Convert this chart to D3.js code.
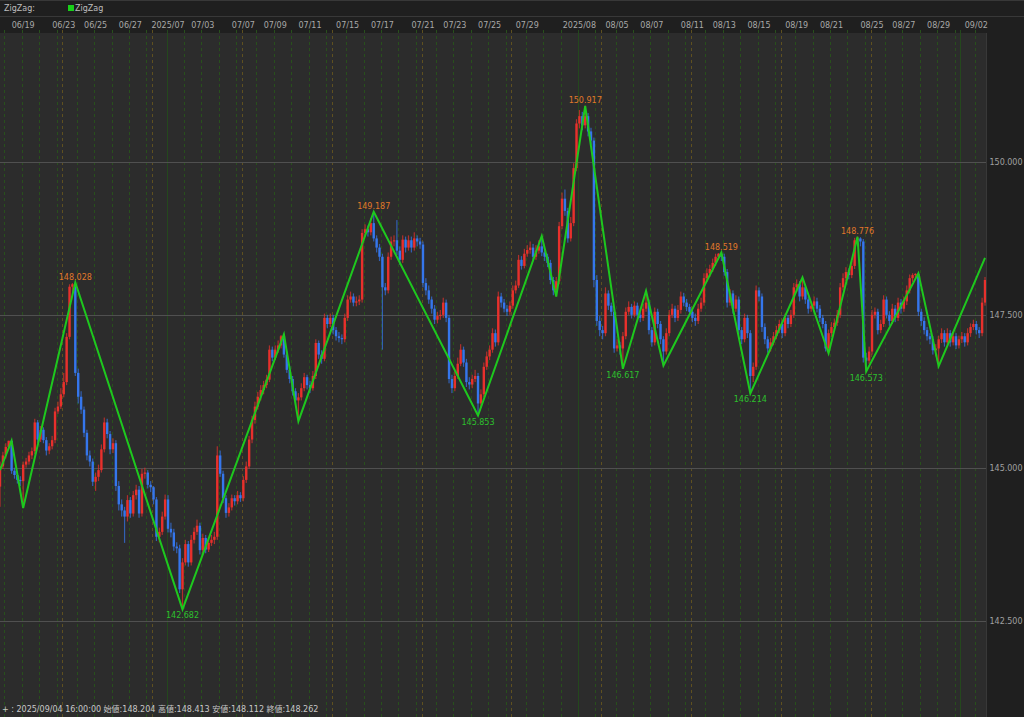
<!DOCTYPE html>
<html><head><meta charset="utf-8">
<script src="https://cdn.jsdelivr.net/npm/d3@7"></script>
<style>
html,body{margin:0;padding:0;background:#1e1e1e;overflow:hidden;}
svg{display:block;}
text{font-family:"DejaVu Sans","Noto Sans CJK JP",sans-serif;}
</style></head><body>
<svg id="c" width="1024" height="717"></svg>
<script>
// ---- data: 4h candles (open of each bar = previous close) ----
const firstOpen = 144.69;
const closes = [
145.02,145.20,145.34,145.44,144.95,144.88,144.80,144.78,145.05,145.10,
145.20,145.27,145.74,145.46,145.62,145.45,145.28,145.35,145.45,145.92,
146.00,146.20,146.40,147.14,147.96,148.00,146.55,146.16,145.95,145.57,
145.20,145.10,144.77,144.85,144.96,145.30,145.74,145.55,145.30,145.40,
144.70,144.40,144.30,144.20,144.47,144.25,144.55,144.64,144.25,144.90,
144.92,144.72,144.68,144.48,143.87,143.95,144.20,144.48,144.00,143.94,
143.71,143.68,143.01,143.45,143.75,143.45,143.82,143.95,144.05,143.65,
143.85,143.66,143.77,143.82,143.87,145.20,144.90,144.50,144.26,144.35,
144.50,144.45,144.55,144.50,144.80,145.02,145.46,145.78,146.00,146.16,
146.27,146.35,146.44,146.93,146.80,146.93,147.00,147.15,146.85,146.60,
146.45,146.25,146.10,146.15,146.30,146.48,146.35,146.30,146.50,147.04,
146.85,146.78,147.45,147.35,147.45,147.25,147.15,147.12,147.10,147.45,
147.75,147.80,147.70,147.72,147.75,148.84,148.90,148.85,149.00,148.75,
148.60,148.45,147.95,147.90,148.45,148.70,148.72,148.55,148.40,148.73,
148.60,148.72,148.60,148.75,148.70,148.65,148.02,147.90,147.75,147.60,
147.42,147.48,147.50,147.70,147.45,146.45,146.30,146.50,146.70,146.93,
146.72,146.40,146.36,146.45,146.50,146.05,146.20,146.65,146.82,146.93,
147.20,147.05,147.80,147.70,147.60,147.55,147.65,147.90,147.98,148.40,
148.30,148.50,148.56,148.60,148.45,148.55,148.62,148.52,148.45,148.35,
148.07,147.90,148.05,148.95,149.40,149.20,148.75,149.00,149.90,150.63,
150.75,150.60,150.75,150.50,150.35,148.07,147.40,147.25,147.20,147.85,
147.65,147.55,146.95,147.00,146.95,147.15,147.55,147.63,147.50,147.65,
147.50,147.45,147.60,147.70,147.25,147.05,147.55,147.35,147.10,146.90,
147.20,147.50,147.60,147.45,147.58,147.80,147.70,147.63,147.55,147.45,
147.40,147.60,147.70,148.10,148.18,148.25,148.35,148.45,148.50,148.45,
148.20,147.70,147.85,147.60,147.75,147.25,147.10,147.45,147.20,146.50,
146.65,147.90,147.80,147.30,147.10,146.95,147.05,147.15,147.25,147.35,
147.20,147.45,147.35,147.50,147.95,148.00,147.80,147.95,147.75,147.60,
147.65,147.72,147.60,147.45,147.35,146.95,147.20,147.30,147.37,147.50,
147.95,148.10,148.20,148.15,148.30,148.72,148.75,148.70,146.80,146.75,
146.90,147.50,147.55,147.25,147.35,147.75,147.50,147.40,147.60,147.45,
147.70,147.60,147.72,147.90,148.10,148.15,148.17,147.55,147.40,147.25,
147.15,147.10,146.92,146.95,147.10,147.20,147.05,147.20,147.05,147.15,
147.00,147.10,147.15,147.05,147.20,147.30,147.35,147.25,147.20,147.70,148.07];
const highs = [
145.10,145.26,145.40,145.44,145.44,145.00,144.92,144.86,145.10,145.16,
145.26,145.33,145.80,145.78,145.68,145.66,145.50,145.40,145.52,145.98,
146.08,146.30,146.55,147.20,148.00,148.02,148.03,146.62,146.25,146.00,
145.62,145.28,145.15,144.92,145.05,145.38,145.82,145.80,145.60,145.48,
145.45,144.78,144.48,144.36,144.55,144.52,144.62,144.72,144.70,144.98,
145.00,144.96,144.78,144.70,144.52,144.02,144.28,144.56,144.55,144.10,
144.00,143.78,143.74,143.52,143.82,143.80,143.90,144.02,144.15,144.10,
143.92,143.90,143.84,143.90,143.95,145.35,145.28,144.95,144.55,144.42,
144.56,144.55,144.62,144.60,144.86,145.10,145.52,145.85,146.08,146.24,
146.35,146.42,146.52,147.00,146.98,147.00,147.08,147.17,147.18,146.90,
146.66,146.50,146.30,146.22,146.38,146.55,146.52,146.42,146.58,147.10,
147.08,146.92,147.52,147.50,147.52,147.50,147.30,147.22,147.18,147.52,
147.82,147.88,147.85,147.80,147.82,148.90,148.98,148.96,149.08,149.19,
148.80,148.66,148.50,148.02,148.52,148.78,148.80,149.05,148.62,148.80,
148.78,148.80,148.78,148.85,148.80,148.76,148.70,148.10,147.98,147.80,
147.66,147.55,147.58,147.78,147.75,147.50,146.52,146.60,146.80,147.02,
146.98,146.78,146.48,146.52,146.60,146.55,146.28,146.72,146.90,147.00,
147.28,147.26,147.88,147.86,147.76,147.66,147.72,147.98,148.06,148.48,
148.46,148.58,148.64,148.70,148.66,148.64,148.72,148.79,148.58,148.50,
148.40,148.12,148.12,149.02,149.50,149.55,149.25,149.10,149.98,150.70,
150.85,150.82,150.92,150.80,150.56,150.40,148.15,147.48,147.32,147.95,
147.90,147.70,147.60,147.10,147.06,147.22,147.62,147.72,147.68,147.72,
147.70,147.56,147.68,147.89,147.75,147.30,147.62,147.60,147.40,147.15,
147.28,147.58,147.68,147.65,147.66,147.88,147.86,147.76,147.68,147.60,
147.52,147.68,147.78,148.18,148.26,148.32,148.42,148.50,148.51,148.52,
148.50,148.25,147.92,147.90,147.82,147.80,147.30,147.52,147.50,147.25,
146.72,147.98,147.95,147.85,147.36,147.15,147.12,147.22,147.32,147.42,
147.40,147.52,147.50,147.58,148.02,148.08,148.05,148.11,148.00,147.80,
147.72,147.80,147.78,147.66,147.50,147.40,147.26,147.38,147.44,147.58,
148.02,148.18,148.28,148.26,148.38,148.76,148.78,148.77,148.74,146.88,
146.98,147.58,147.62,147.60,147.42,147.82,147.80,147.56,147.68,147.66,
147.78,147.76,147.80,147.98,148.16,148.18,148.18,148.18,147.60,147.46,
147.30,147.20,147.15,147.02,147.16,147.28,147.25,147.28,147.25,147.22,
147.20,147.16,147.22,147.20,147.28,147.36,147.42,147.40,147.30,147.78,148.12];
const lows = [
144.36,144.98,145.15,145.30,144.90,144.82,144.74,144.70,144.34,145.00,
145.05,145.14,145.22,145.40,145.42,145.40,145.20,145.22,145.30,145.40,
145.88,145.96,146.15,146.35,147.10,147.85,146.50,146.05,145.88,145.50,
145.12,145.02,144.70,144.62,144.78,144.92,145.25,145.48,145.22,145.24,
144.62,144.30,144.20,143.77,144.12,144.18,144.20,144.48,144.18,144.20,
144.82,144.66,144.60,144.40,143.80,143.78,143.90,144.15,143.94,143.86,
143.64,143.60,142.95,142.68,143.40,143.38,143.40,143.76,143.90,143.58,
143.60,143.60,143.62,143.72,143.75,143.82,144.85,144.42,144.18,144.20,
144.30,144.38,144.40,144.44,144.45,144.75,144.98,145.40,145.72,145.95,
146.10,146.20,146.30,146.40,146.74,146.76,146.88,146.95,146.80,146.55,
146.38,146.18,146.02,145.76,146.10,146.25,146.28,146.22,146.26,146.45,
146.78,146.70,146.74,147.28,147.30,147.18,147.08,147.05,147.02,147.05,
147.40,147.70,147.64,147.64,147.66,147.70,148.78,148.78,148.80,148.70,
148.52,148.38,146.93,147.82,147.85,148.40,148.62,148.48,148.32,148.35,
148.52,148.55,148.52,148.55,148.62,148.58,147.95,147.82,147.68,147.52,
147.35,147.36,147.42,147.45,147.38,146.38,146.22,146.25,146.45,146.66,
146.65,146.32,146.28,146.30,146.40,145.85,145.98,146.15,146.60,146.76,
146.88,146.98,147.00,147.62,147.54,147.48,147.50,147.60,147.85,147.94,
148.24,148.26,148.45,148.50,148.40,148.40,148.50,148.46,148.38,148.28,
148.00,147.82,147.80,148.00,148.90,149.12,148.68,148.70,148.95,149.85,
150.55,150.52,150.55,150.42,150.28,147.95,147.32,147.15,147.10,147.15,
147.58,147.48,146.88,146.90,146.85,146.62,147.10,147.50,147.44,147.46,
147.44,147.38,147.40,147.55,147.18,146.98,147.00,147.28,147.02,146.67,
146.85,147.15,147.45,147.38,147.40,147.52,147.64,147.56,147.48,147.38,
147.32,147.35,147.55,147.65,148.04,148.12,148.20,148.30,148.40,148.38,
148.14,147.62,147.65,147.52,147.55,147.18,147.02,147.05,147.12,146.21,
146.40,146.60,147.72,147.22,147.02,146.88,146.90,147.00,147.10,147.20,
147.12,147.15,147.28,147.30,147.45,147.88,147.72,147.75,147.68,147.52,
147.55,147.60,147.54,147.38,147.28,146.90,146.87,147.14,147.25,147.32,
147.45,147.90,148.05,148.08,148.10,148.25,148.62,148.62,146.72,146.57,
146.70,146.85,147.44,147.18,147.20,147.30,147.44,147.32,147.35,147.38,
147.40,147.52,147.55,147.66,147.85,148.04,148.08,147.48,147.32,147.18,
147.08,147.02,146.85,146.82,146.66,147.04,146.98,147.00,146.98,147.00,
146.94,146.95,147.04,146.98,147.00,147.14,147.25,147.18,147.12,147.15,147.65];

// ZigZag pivots (bar index, price) and which ones carry a value label
const zzIdx = [0,4,8,26,63,98,103,129,165,187,192,202,215,223,229,249,259,277,286,296,299,317,324,340];
const zzVal = [144.96,145.44,144.34,148.028,142.682,147.18,145.76,149.187,145.853,148.79,147.80,150.917,146.617,147.89,146.67,148.519,146.214,148.11,146.87,148.776,146.573,148.18,146.66,148.43];
const zzLabelIdx = [26,63,129,165,202,215,249,259,296,299];
const zzLabelType = ["H","L","H","L","H","L","H","L","H","L"];

// date axis labels
const tickLabels = ["06/19","06/23","06/25","06/27","2025/07","07/03","07/07","07/09","07/11","07/15","07/17","07/21","07/23","07/25","07/29","2025/08","08/05","08/07","08/11","08/13","08/15","08/19","08/21","08/25","08/27","08/29","09/02"];
const tickIdx = [8,22,33,45,58,70,84,95,107,120,132,146,157,169,182,200,213,225,239,250,262,275,287,301,312,324,337];
// price axis
const priceTicks = [150, 147.5, 145, 142.5];
// calendar of session boundaries (bar index of day starts)
const dayStartIdx = [2,8,14,20];        // Wed..Sat of first partial week
const weekStartIdx = [22,53,84,115,146,177,208,239,270,301,332]; // Mondays
const monthStartIdx = [58,200,332];

const infoText = "+ : 2025/09/04 16:00:00 始値:148.204 高値:148.413 安値:148.112 終値:148.262";

// ---- layout ----
const W = 1024, H = 717;
const plotL = 0, plotR = 986, plotT = 33, plotB = 717;
const svg = d3.select("#c");

const x = d3.scaleLinear().domain([0, 340]).range([0, 985]);
const y = d3.scaleLinear().domain([142.5, 150]).range([620.5, 162]);

// backgrounds
svg.append("rect").attr("x",0).attr("y",0).attr("width",W).attr("height",H).attr("fill","#1f1f1f");
svg.append("rect").attr("x",plotL).attr("y",plotT).attr("width",plotR-plotL).attr("height",plotB-plotT).attr("fill","#2c2c2c");
svg.append("line").attr("x1",0).attr("x2",W).attr("y1",0.5).attr("y2",0.5).attr("stroke","#383838");
svg.append("line").attr("x1",0).attr("x2",W).attr("y1",16.5).attr("y2",16.5).attr("stroke","#383838");
svg.append("line").attr("x1",plotR+0.5).attr("x2",plotR+0.5).attr("y1",plotT).attr("y2",H).attr("stroke","#383838");

const clip = svg.append("clipPath").attr("id","pc");
clip.append("rect").attr("x",plotL).attr("y",plotT-3).attr("width",plotR-plotL).attr("height",plotB-plotT+3);

const g = svg.append("g").attr("clip-path","url(#pc)");

// vertical session lines
const allWeekDays = [];
weekStartIdx.forEach(w => { [5,11,17,23,29].forEach(o => { if (w+o <= 340) allWeekDays.push(w+o); }); });
const greenDays = dayStartIdx.concat(allWeekDays).filter(i => !monthStartIdx.includes(i));
const xl = i => Math.round(x(i) - 1.4) + 0.5;
g.selectAll("line.day").data(greenDays).join("line").attr("class","day")
  .attr("x1",xl).attr("x2",xl).attr("y1",plotT-3).attr("y2",plotB)
  .attr("stroke","#28501c").attr("stroke-dasharray","3,3");
g.selectAll("line.week").data(weekStartIdx.filter(i => !monthStartIdx.includes(i))).join("line").attr("class","week")
  .attr("x1",xl).attr("x2",xl).attr("y1",plotT-3).attr("y2",plotB)
  .attr("stroke","#5e5020").attr("stroke-dasharray","3,3");
g.selectAll("line.month").data(monthStartIdx).join("line").attr("class","month")
  .attr("x1",xl).attr("x2",xl).attr("y1",plotT-3).attr("y2",plotB)
  .attr("stroke","#24481d");

// horizontal grid
g.selectAll("line.hg").data(priceTicks).join("line").attr("class","hg")
  .attr("x1",plotL).attr("x2",plotR).attr("y1",d=>Math.round(y(d))+0.5).attr("y2",d=>Math.round(y(d))+0.5)
  .attr("stroke","#505050");

// candles
const bars = closes.map((c,i) => ({i, o: i===0 ? firstOpen : closes[i-1], c, h: highs[i], l: lows[i]}));
const up = "#e8302c", dn = "#3576ec";
const cg = g.append("g");
cg.selectAll("rect.wick").data(bars).join("rect").attr("class","wick")
  .attr("x", d => x(d.i) - 0.6)
  .attr("y", d => y(d.h)).attr("width",1.2)
  .attr("height", d => Math.max(1, y(d.l) - y(d.h)))
  .attr("fill", d => d.c >= d.o ? up : dn).attr("opacity",0.7);
cg.selectAll("rect.body").data(bars).join("rect").attr("class","body")
  .attr("x", d => x(d.i) - 1.2)
  .attr("y", d => y(Math.max(d.o,d.c)))
  .attr("width",2.4)
  .attr("height", d => Math.max(1, Math.abs(y(d.o) - y(d.c))))
  .attr("fill", d => d.c >= d.o ? up : dn);

// zigzag
const zz = zzIdx.map((i,k) => [i, zzVal[k]]);
g.append("path").datum(zz)
  .attr("d", d3.line().x(d => x(d[0])).y(d => y(d[1])))
  .attr("fill","none").attr("stroke","#1ec81e").attr("stroke-width",2).attr("stroke-linejoin","miter");

// zigzag labels
zzLabelIdx.forEach((idx,k) => {
  const v = zzVal[zzIdx.indexOf(idx)];
  const hi = zzLabelType[k] === "H";
  svg.append("text").attr("x", x(idx)).attr("y", hi ? y(v) - 3 : y(v) + 9)
    .attr("text-anchor","middle").attr("font-size","8px")
    .attr("fill", hi ? "#e0782a" : "#2cc02c").text(v.toFixed(3));
});

// date axis
svg.selectAll("text.dt").data(tickLabels).join("text").attr("class","dt")
  .attr("x",(d,k) => x(tickIdx[k])).attr("y",28)
  .attr("text-anchor","middle").attr("font-size","8px").attr("fill","#a8a8a8").text(d=>d);

// price axis
svg.selectAll("text.pt").data(priceTicks).join("text").attr("class","pt")
  .attr("x",1006).attr("y",d => y(d) + 3)
  .attr("text-anchor","middle").attr("font-size","8px").attr("fill","#a0a0a0").text(d => d.toFixed(3));

// legend
svg.append("text").attr("x",4).attr("y",11).attr("font-size","8px").attr("fill","#bdbdbd").text("ZigZag:");
svg.append("rect").attr("x",68).attr("y",5).attr("width",6).attr("height",6).attr("fill","#19d019");
svg.append("text").attr("x",75).attr("y",11).attr("font-size","8px").attr("fill","#bdbdbd").text("ZigZag");

// info line
svg.append("text").attr("x",2).attr("y",712).attr("font-size","8px").attr("fill","#c8c8c8").text(infoText);
</script>
</body></html>
